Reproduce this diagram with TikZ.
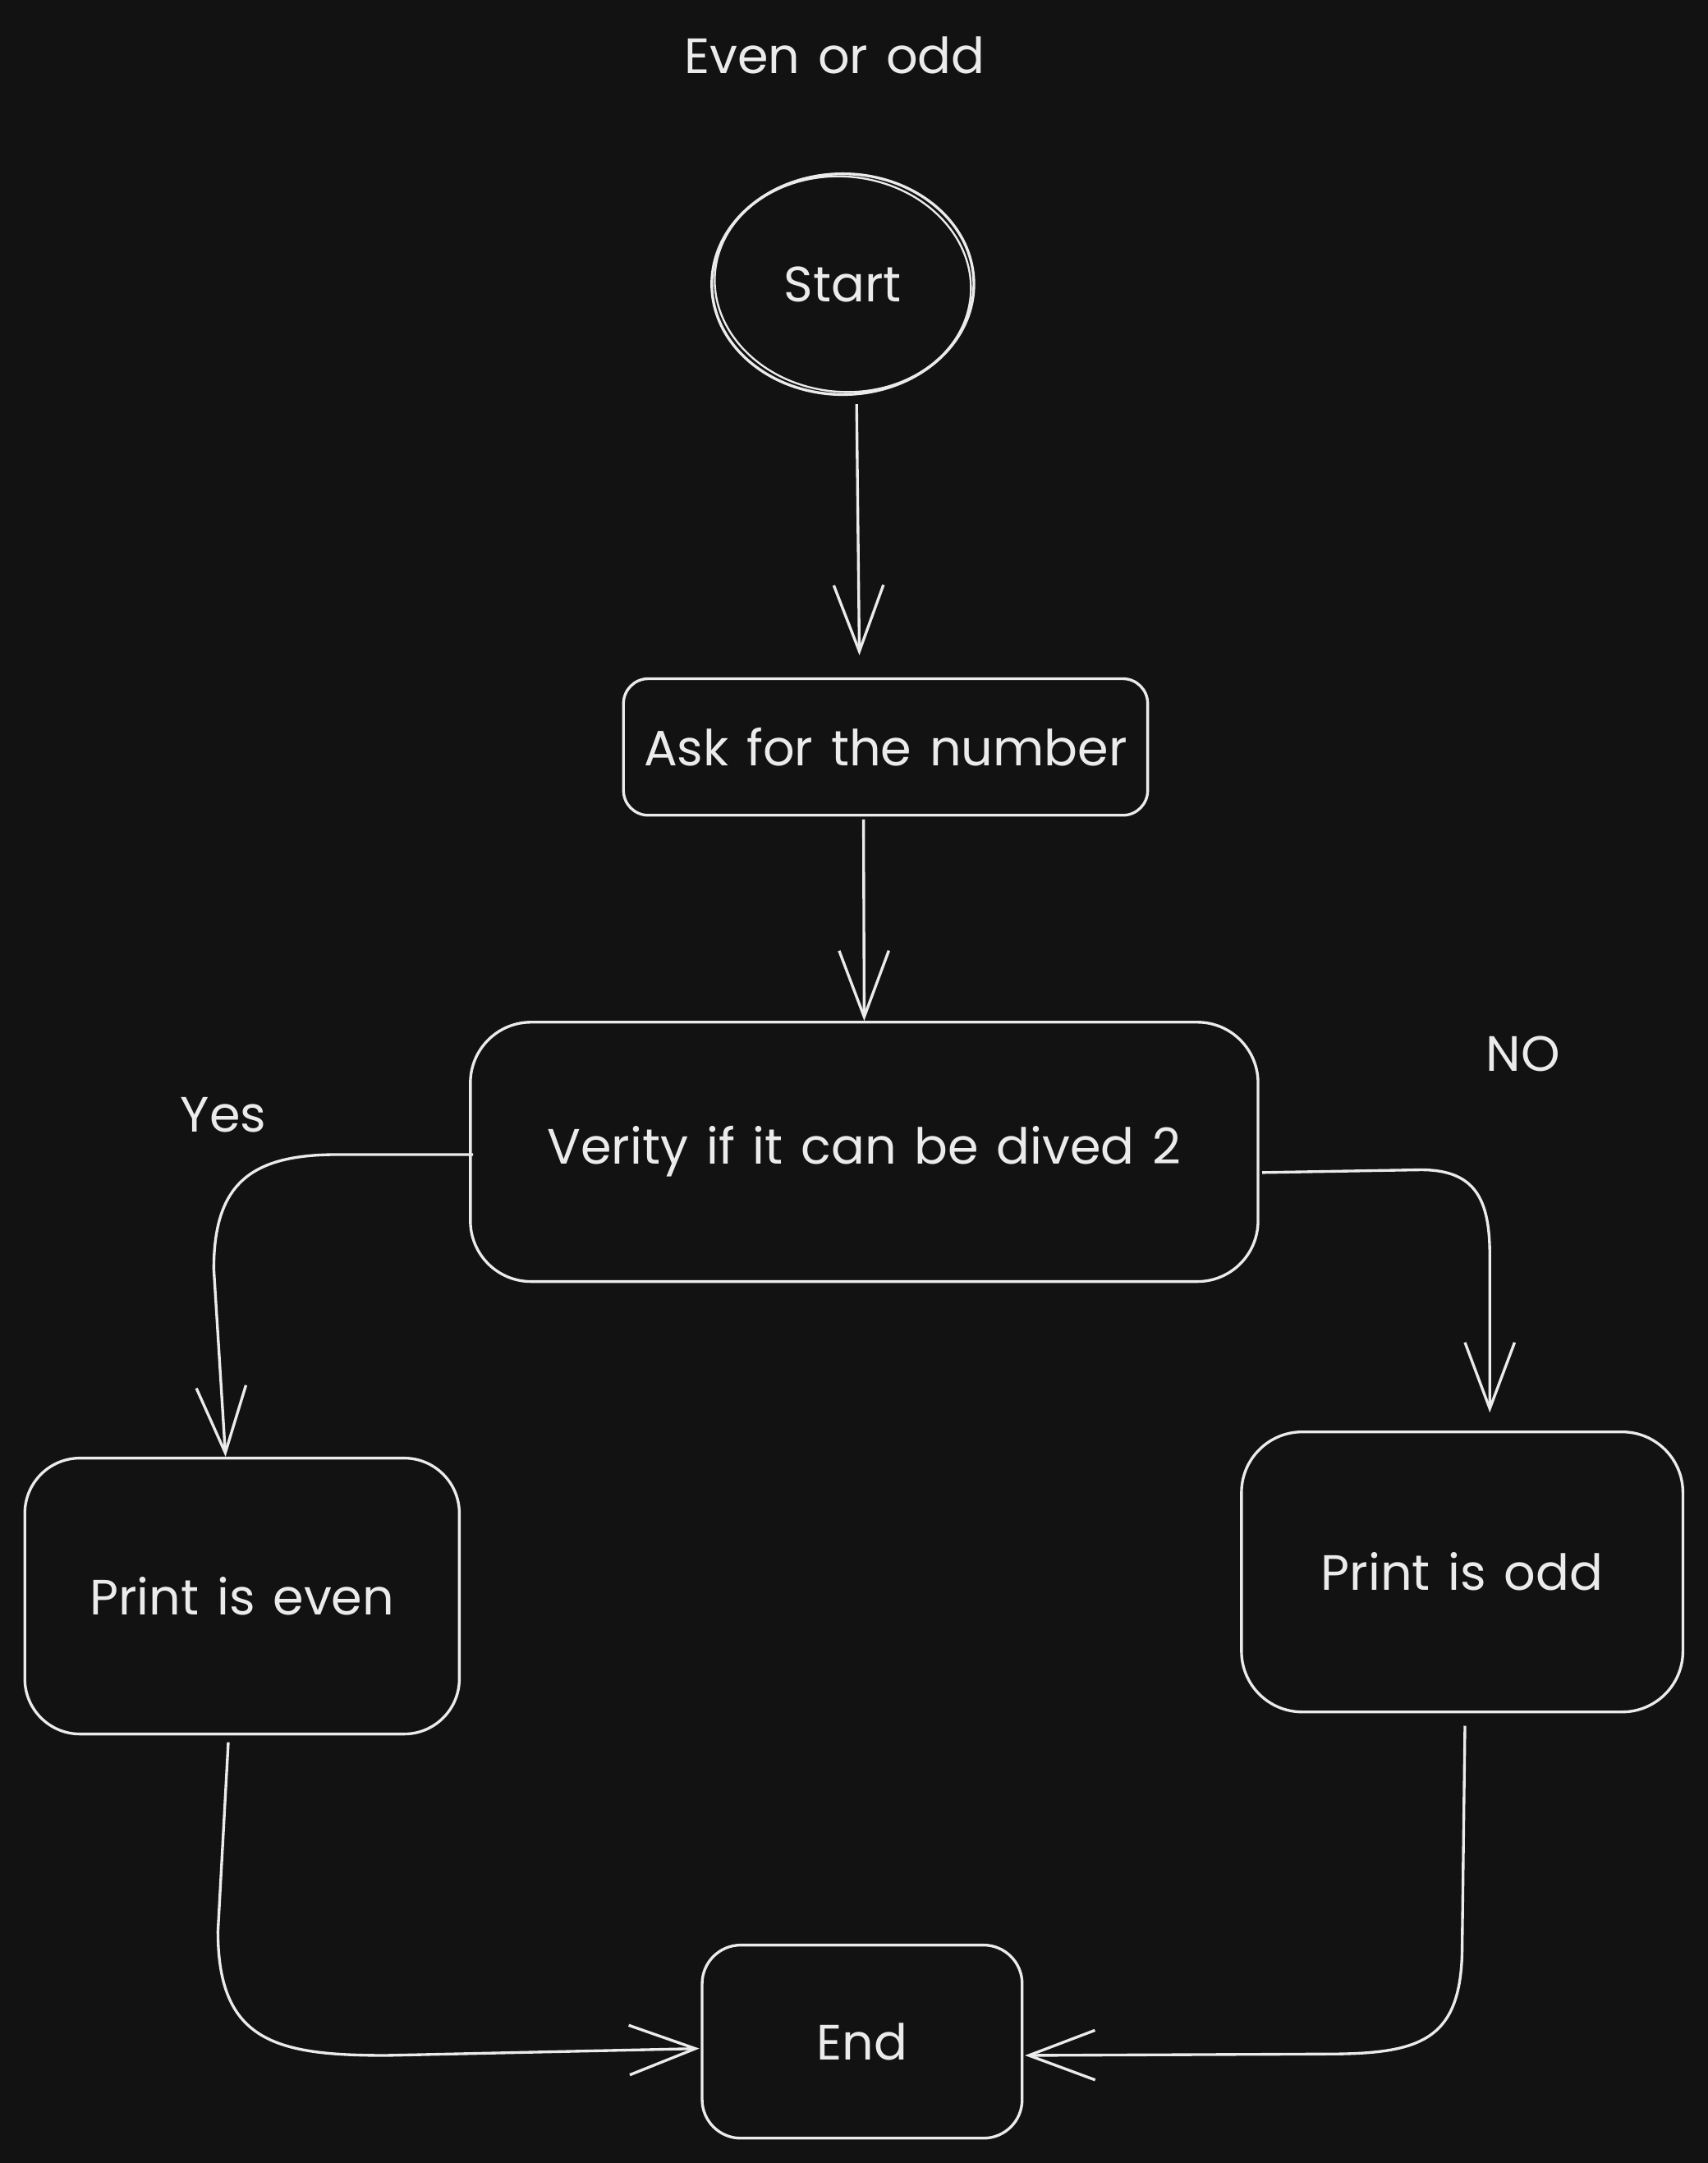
\documentclass[tikz,border=0pt]{standalone}
\usepackage{fontspec}
\setmainfont[WordSpace=1.35]{Poppins}
\usetikzlibrary{arrows.meta,shapes.geometric,calc}
\definecolor{bg}{HTML}{121212}
\definecolor{ink}{HTML}{EBEBEB}
\begin{document}
\begin{tikzpicture}[x=0.5pt,y=-0.5pt,
  txt/.style={text=ink,font=\fontsize{18}{22}\selectfont},
  flowbox/.style={draw=ink,line width=1pt,inner sep=0pt,txt},
  arr/.style={draw=ink,line width=1pt,-{Straight Barb[length=24pt,width=18pt]}}]
\fill[bg] (0,0) rectangle (1238,1568);
\useasboundingbox (0,0) rectangle (1238,1568);
\node[txt] (title) at (605,40) {Even or odd};
\node[flowbox,ellipse,minimum width=95pt,minimum height=80pt] (start) at (611,206) {Start};
\draw[ink,line width=0.7pt,rotate around={-6:(start.center)}] (start.center) ellipse [x radius=93,y radius=78];
\node[flowbox,rounded corners=9pt,minimum width=190pt,minimum height=49.5pt] (ask) at (642,541.5) {Ask for the number};
\node[flowbox,rounded corners=22pt,minimum width=285.5pt,minimum height=94pt] (verify) at (626.5,835) {Verity if it can be dived 2};
\node[flowbox,rounded corners=20pt,minimum width=157.5pt,minimum height=100pt] (even) at (175.5,1157) {Print is even};
\node[flowbox,rounded corners=22pt,minimum width=160pt,minimum height=101.5pt] (odd) at (1060,1139.5) {Print is odd};
\node[flowbox,rounded corners=14pt,minimum width=116pt,minimum height=70pt] (end) at (625,1480) {End};
\node[txt] (yes) at (162,808) {Yes};
\node[txt] (no) at (1104,764) {NO};
\draw[arr] ($(start.south)+(10,6)$) -- ($(ask.north)+(-19,-16)$);
\draw[arr] ($(ask.south)+(-16,2)$) -- (verify.north);
\draw[arr] ($(verify.west)+(3,2)$) -- (240,837) .. controls (180,838) and (155,860) .. (155,920) -- ($(even.north)+(-12,0)$);
\draw[arr] ($(verify.east)+(2,15)$) -- (1030,848) .. controls (1070,848) and (1080,870) .. (1080,910) -- ($(odd.north)+(20,-13)$);
\draw[arr] ($(even.south)+(-10,5)$) -- (158,1400) .. controls (158,1480) and (200,1490) .. (280,1490) -- ($(end.west)+(-1,5)$);
\draw[arr] ($(odd.south)+(2,9)$) -- (1060,1410) .. controls (1060,1480) and (1030,1489) .. (960,1489) -- ($(end.east)+(1,10)$);
\end{tikzpicture}
\end{document}
